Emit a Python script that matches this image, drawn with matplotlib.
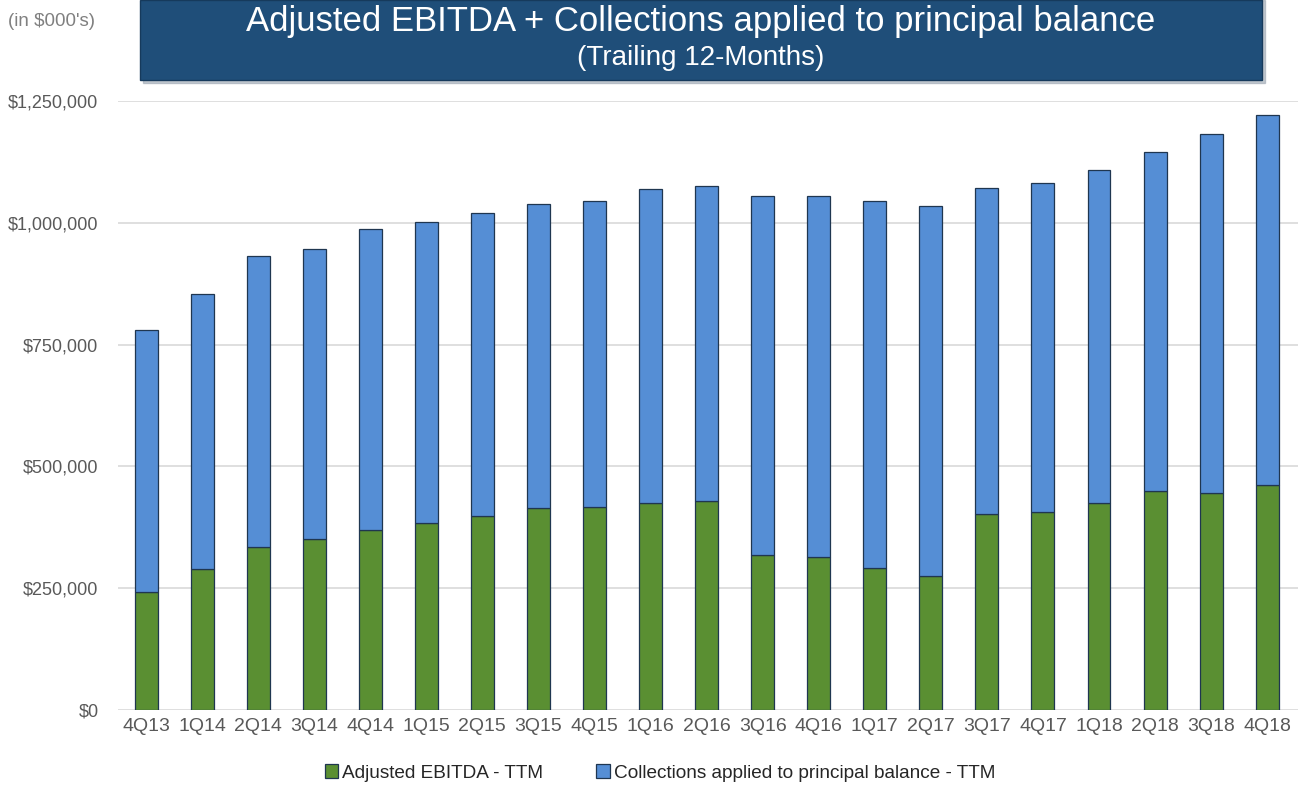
import numpy as np
import matplotlib.pyplot as plt
from matplotlib.patches import Rectangle
from matplotlib.ticker import FuncFormatter

plt.rcParams['font.family'] = ['Liberation Sans', 'DejaVu Sans']

# quarters and TTM values (in $000's)
quarters = ['4Q13', '1Q14', '2Q14', '3Q14', '4Q14', '1Q15', '2Q15', '3Q15', '4Q15', '1Q16', '2Q16',
            '3Q16', '4Q16', '1Q17', '2Q17', '3Q17', '4Q17', '1Q18', '2Q18', '3Q18', '4Q18']
ebitda = np.array([243, 289, 335, 352, 370, 384, 398, 414, 417, 424, 429,
                   318, 315, 292, 276, 403, 407, 424, 450, 445, 462]) * 1000
totals = np.array([780, 854, 931, 946, 987, 1002, 1021, 1038, 1045, 1070, 1075,
                   1056, 1056, 1045, 1034, 1072, 1082, 1108, 1146, 1182, 1222]) * 1000
collections = totals - ebitda

green = '#5a8f32'
blue = '#558ed5'
edge = '#1f3650'
gray = '#595959'

fig = plt.figure(figsize=(13.05, 7.87), dpi=100)
ax = fig.add_axes([118 / 1305, 1 - 710 / 787, (1298 - 118) / 1305, (710 - 101) / 787])

x = np.arange(len(quarters))
w = 0.41
ax.bar(x, ebitda, w, color=green, edgecolor=edge, linewidth=0.9, label='Adjusted EBITDA - TTM', zorder=3)
ax.bar(x, collections, w, bottom=ebitda, color=blue, edgecolor=edge, linewidth=0.9,
       label='Collections applied to principal balance - TTM', zorder=3)

ax.set_xlim(-0.5, len(quarters) - 0.45)
ax.set_ylim(0, 1250000)
ax.set_yticks(np.arange(0, 1250001, 250000))
ax.yaxis.set_major_formatter(FuncFormatter(lambda v, p: f'${v:,.0f}'))
ax.set_xticks(x, quarters)
ax.grid(axis='y', color='#d9d9d9', linewidth=1.2, zorder=0)
ax.tick_params(axis='both', length=0, labelsize=13, labelcolor=gray)
ax.tick_params(axis='x', labelsize=14, pad=6)
ax.tick_params(axis='y', pad=14)
for s in ax.spines.values():
    s.set_visible(False)

# title banner
fig.patches.append(Rectangle((143 / 1305, 1 - 83 / 787), (1122) / 1305, 83 / 787,
                             transform=fig.transFigure, color='#9aa5b0', alpha=0.6, zorder=0))
fig.patches.append(Rectangle((140 / 1305, 1 - 80 / 787), (1122) / 1305, 80 / 787,
                             transform=fig.transFigure, facecolor='#1f4e79', edgecolor='#163a5c',
                             linewidth=1, zorder=1))
fig.text(701 / 1305, 1 - 22 / 787, 'Adjusted EBITDA + Collections applied to principal balance',
         ha='center', va='center', color='white', fontsize=25)
fig.text(701 / 1305, 1 - 58 / 787, '(Trailing 12-Months)',
         ha='center', va='center', color='white', fontsize=20)
fig.text(8 / 1305, 1 - 22 / 787, "(in $000's)", ha='left', va='center', color='#808080', fontsize=13.5)

fig.legend(loc='center', bbox_to_anchor=(660 / 1305, 1 - 773 / 787), ncol=2, frameon=False,
           fontsize=13.7, labelcolor='#262626', handlelength=0.7, handleheight=0.7,
           handletextpad=0.2, columnspacing=2.8)

plt.savefig('out.png', dpi=100)
